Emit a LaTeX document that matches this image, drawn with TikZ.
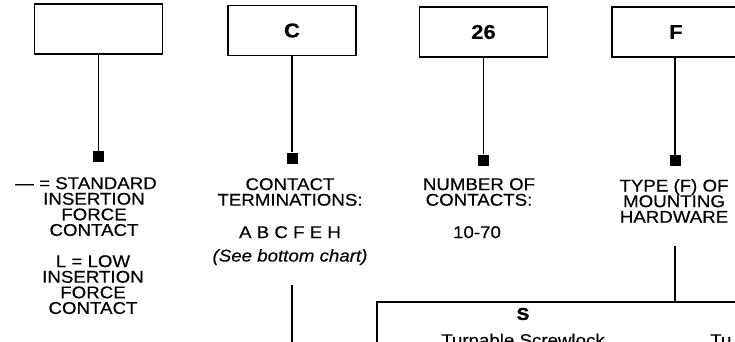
\documentclass[tikz,border=0pt]{standalone}
\usepackage{fontspec}
\setmainfont{Liberation Sans}
\newfontfamily\lblfont{Liberation Sans}[FakeStretch=1.1,FakeBold=0.35]
\newfontfamily\heavyfont{Liberation Sans Bold}[FakeStretch=1.1,FakeBold=2]
\begin{document}
\begin{tikzpicture}[x=1pt,y=-1pt,
  codebox/.style={draw,line width=1.8pt,inner sep=0pt,minimum width=128pt,minimum height=50pt,font=\lblfont\fontsize{20}{20}\selectfont\bfseries},
  pin/.style={fill=black,inner sep=0pt,minimum size=11pt},
  conn/.style={line width=1.5pt},
  lbl/.style={inner sep=0pt,align=center,anchor=north,font=\lblfont\fontsize{17}{15.6}\selectfont},
  chartbox/.style={draw,line width=2pt,inner sep=0pt}]
\useasboundingbox (0,0) rectangle (735,341);
\clip (0,0) rectangle (735,341);
% code boxes
\node[codebox] (b1) at (98.5,29) {};
\node[codebox] (b2) at (292,30.5) {C};
\node[codebox] (b3) at (483.5,32) {26};
\node[codebox] (b4) at (676,32) {F};
% pins
\node[pin] (s1) at (98.5,156.5) {};
\node[pin] (s2) at (292,158) {};
\node[pin] (s3) at (483.5,160) {};
\node[pin] (s4) at (675,160.5) {};
\draw[conn] (b1.south) -- (s1.north);
\draw[conn] (b2.south) -- (s2.north);
\draw[conn] (b3.south) -- (s3.north);
\draw[conn] (s4.north |- b4.south) -- (s4.north);
% column 1
\node[lbl] (t1a) at (94,177) {—\ =\ STANDARD\hspace*{16pt}\mbox{}\\INSERTION\\FORCE\\CONTACT};
\node[lbl] (t1b) at (93,255) {L\ =\ LOW\\INSERTION\\FORCE\\CONTACT};
% column 2
\node[lbl] (t2a) at (290,178) {CONTACT\\TERMINATIONS:};
\node[lbl] (t2b) at (290,226) {A B C F E H};
\node[lbl,font=\lblfont\fontsize{17}{15.6}\selectfont\itshape] (t2c) at (290,249) {(See bottom chart)};
% column 3
\node[lbl] (t3a) at (479,178) {NUMBER OF\\CONTACTS:};
\node[lbl] (t3b) at (477,226) {10-70};
% column 4
\node[lbl] (t4a) at (674,179) {TYPE (F) OF\\MOUNTING\\HARDWARE};
% chart box
\node[chartbox,minimum width=430pt,minimum height=100pt] (chart) at (592,352) {};
\coordinate (c2top) at (292,285);
\coordinate (c2bot) at (292,345);
\draw[conn] (c2top) -- (c2bot);
\coordinate (c4top) at (675,246);
\draw[conn] (c4top) -- (c4top |- chart.north);
\node[inner sep=0pt,font=\heavyfont\fontsize{17}{17}\selectfont] (sx) at (523,314) {S};
\node[inner sep=0pt,anchor=base,font=\lblfont\fontsize{17}{17}\selectfont] (ts) at (523,346) {Turnable Screwlock};
\node[inner sep=0pt,anchor=base west,font=\lblfont\fontsize{17}{17}\selectfont] (tt) at (710,346) {Tu};
\end{tikzpicture}
\end{document}
